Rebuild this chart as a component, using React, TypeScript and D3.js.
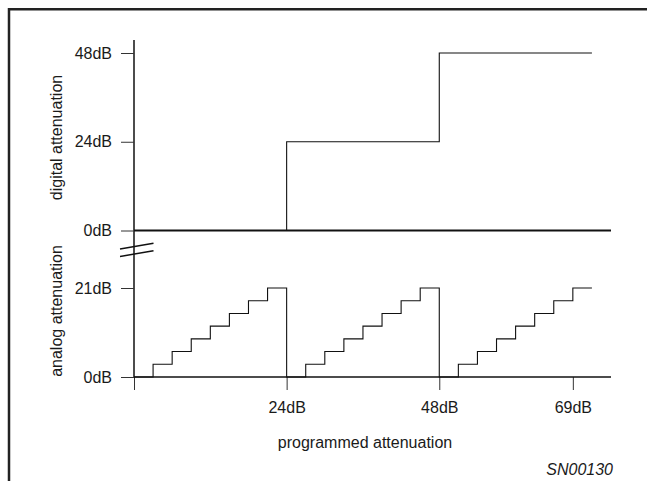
import { useEffect, useRef } from "react";
import * as d3 from "d3";

// programmed attenuation (dB), one point per 3dB step
const programmed = [0, 3, 6, 9, 12, 15, 18, 21, 24, 27, 30, 33, 36, 39, 42, 45, 48, 51, 54, 57, 60, 63, 66, 69, 72];
const digital = [0, 0, 0, 0, 0, 0, 0, 0, 24, 24, 24, 24, 24, 24, 24, 24, 48, 48, 48, 48, 48, 48, 48, 48, 48];
const analog = [0, 3, 6, 9, 12, 15, 18, 21, 0, 3, 6, 9, 12, 15, 18, 21, 0, 3, 6, 9, 12, 15, 18, 21, 21];

const xTicks = [0, 24, 48, 69];
const xTickLabels = ["", "24dB", "48dB", "69dB"];
const digitalTicks = [0, 24, 48];
const digitalTickLabels = ["0dB", "24dB", "48dB"];
const analogTicks = [0, 21];
const analogTickLabels = ["0dB", "21dB"];

const FONT = "'Liberation Sans', Arial, sans-serif";

const App = () => {
  const ref = useRef<SVGSVGElement | null>(null);

  useEffect(() => {
    if (!ref.current) return;
    const svg = d3.select(ref.current).html("");

    const x = d3.scaleLinear().domain([0, 75]).range([134, 611]);
    const yD = d3.scaleLinear().domain([0, 48]).range([230.5, 53]);
    const yA = d3.scaleLinear().domain([0, 21]).range([377, 288]);

    // frame (open at right/bottom, cropped)
    svg.append("path")
      .attr("d", "M9,481V9.3H647")
      .attr("fill", "none")
      .attr("stroke", "#222")
      .attr("stroke-width", 2.5);

    const pts = programmed.map((p, i) => ({ p, d: digital[i], a: analog[i] }));

    // y axis line
    svg.append("line")
      .attr("x1", x(0)).attr("x2", x(0))
      .attr("y1", 40).attr("y2", yA(0))
      .attr("stroke", "#111").attr("stroke-width", 1.5);

    // digital axis ticks
    const dAxis = svg.append("g")
      .attr("transform", `translate(${x(0)},0)`)
      .call(d3.axisLeft(yD).tickValues(digitalTicks).tickSize(13).tickPadding(9)
        .tickFormat((_, i) => digitalTickLabels[i]));
    const aAxis = svg.append("g")
      .attr("transform", `translate(${x(0)},0)`)
      .call(d3.axisLeft(yA).tickValues(analogTicks).tickSize(13).tickPadding(9)
        .tickFormat((_, i) => analogTickLabels[i]));
    const xAxis = svg.append("g")
      .attr("transform", `translate(0,${yA(0)})`)
      .call(d3.axisBottom(x).tickValues(xTicks).tickSize(13).tickPadding(12)
        .tickFormat((_, i) => xTickLabels[i]));

    [dAxis, aAxis, xAxis].forEach((g) => {
      g.select(".domain").remove();
      g.selectAll("line").attr("stroke", "#333").attr("stroke-width", 1);
      g.selectAll("text")
        .attr("fill", "#1a1a1a")
        .style("font-family", FONT)
        .style("font-size", "16px");
    });

    // zero lines
    svg.append("line")
      .attr("x1", x(0)).attr("x2", x(75))
      .attr("y1", yD(0)).attr("y2", yD(0))
      .attr("stroke", "#111").attr("stroke-width", 2.2);
    svg.append("line")
      .attr("x1", x(0)).attr("x2", x(75))
      .attr("y1", yA(0)).attr("y2", yA(0))
      .attr("stroke", "#111").attr("stroke-width", 1.6);

    // axis break marks
    [0, 7.5].forEach((off) => {
      svg.append("line")
        .attr("x1", 120).attr("y1", 249 + off)
        .attr("x2", 153.5).attr("y2", 243.3 + off)
        .attr("stroke", "#111").attr("stroke-width", 1.4);
    });

    const lineD = d3.line<{ p: number; d: number }>()
      .x((d) => x(d.p)).y((d) => yD(d.d)).curve(d3.curveStepAfter);
    const lineA = d3.line<{ p: number; a: number }>()
      .x((d) => x(d.p)).y((d) => yA(d.a)).curve(d3.curveStepAfter);

    svg.append("path")
      .datum(pts)
      .attr("fill", "none")
      .attr("stroke", "#111")
      .attr("stroke-width", 1.1)
      .attr("d", lineD as any);

    svg.append("path")
      .datum(pts)
      .attr("fill", "none")
      .attr("stroke", "#111")
      .attr("stroke-width", 1.1)
      .attr("d", lineA as any);

    // titles
    const label = (t: string, tx: number, ty: number, rot: number, anchor: string, italic = false) =>
      svg.append("text")
        .attr("transform", `translate(${tx},${ty}) rotate(${rot})`)
        .attr("text-anchor", anchor)
        .attr("fill", "#1a1a1a")
        .style("font-family", FONT)
        .style("font-size", "16px")
        .style("font-style", italic ? "italic" : "normal")
        .text(t);

    label("digital attenuation", 62, 137.5, -90, "middle");
    label("analog attenuation", 62, 311, -90, "middle");
    label("programmed attenuation", 365, 448, 0, "middle");
    label("SN00130", 613, 475, 0, "end", true);
  }, []);

  return (
    <svg
      ref={ref}
      width={647}
      height={481}
      style={{ position: "absolute", left: 0, top: 0, background: "#fff" }}
    ></svg>
  );
};

export default App;
